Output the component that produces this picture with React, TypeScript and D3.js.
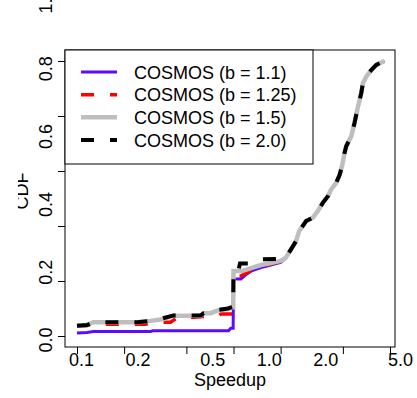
import React, { useRef, useEffect } from "react";
import * as d3 from "d3";

type Pt = [number, number];

// axis values
const xTickValues = [0.1, 0.2, 0.5, 1, 2, 5, 10];
const xLabelValues = [0.1, 0.2, 0.5, 1, 2, 5];
const yTickValues = [0, 0.2, 0.4, 0.6, 0.8, 1];
const yLabelValues = [0, 0.2, 0.4, 0.6, 0.8, 1];

const seriesNames = [
  "COSMOS (b = 1.1)",
  "COSMOS (b = 1.25)",
  "COSMOS (b = 1.5)",
  "COSMOS (b = 2.0)",
];

// [speedup, cdf] points
const b11Head: Pt[] = [
  [0.1, 0.011], [0.116, 0.013], [0.127, 0.016], [0.295, 0.016],
  [0.304, 0.019], [0.93, 0.019], [0.961, 0.028], [0.995, 0.028],
  [1.0, 0.207], [1.114, 0.207], [1.17, 0.218], [1.29, 0.236],
  [1.5, 0.249], [1.73, 0.258], [2.0, 0.268], [2.1, 0.278],
];
const b125Head: Pt[] = [
  [0.1, 0.035], [0.116, 0.038], [0.127, 0.043], [0.274, 0.043],
  [0.304, 0.05], [0.396, 0.05], [0.44, 0.068], [0.557, 0.068],
  [0.645, 0.071], [0.793, 0.071], [0.83, 0.08], [0.995, 0.08],
  [1.0, 0.218], [1.11, 0.218], [1.2, 0.228], [1.29, 0.236],
  [1.5, 0.25], [1.73, 0.262], [2.0, 0.272], [2.1, 0.28],
];
const b15Head: Pt[] = [
  [0.1, 0.037], [0.116, 0.04], [0.127, 0.05], [0.243, 0.05],
  [0.295, 0.055], [0.342, 0.06], [0.414, 0.074], [0.617, 0.074],
  [0.645, 0.083], [0.715, 0.083], [0.793, 0.093], [0.919, 0.098],
  [0.98, 0.105], [0.995, 0.105], [1.0, 0.236], [1.13, 0.236],
  [1.5, 0.258], [1.73, 0.265], [2.0, 0.273], [2.1, 0.28],
];
const b20Head: Pt[] = [
  [0.1, 0.037], [0.116, 0.04], [0.127, 0.05], [0.243, 0.05],
  [0.295, 0.055], [0.342, 0.062], [0.414, 0.075], [0.617, 0.075],
  [0.645, 0.083], [0.715, 0.085], [0.793, 0.095], [0.919, 0.1],
  [0.98, 0.105], [0.995, 0.105], [1.0, 0.243], [1.08, 0.243],
  [1.1, 0.264], [1.3, 0.264], [1.5, 0.279], [2.1, 0.281],
];
// all four runs share the upper part of the curve
const sharedTail: Pt[] = [
  [2.16, 0.285], [2.33, 0.315], [2.51, 0.345], [2.63, 0.382],
  [2.91, 0.418], [3.21, 0.43], [3.45, 0.454], [3.72, 0.484],
  [4.01, 0.508], [4.21, 0.533], [4.53, 0.557], [4.76, 0.585],
  [4.95, 0.62], [5.12, 0.665], [5.25, 0.69], [5.65, 0.726],
  [5.93, 0.774], [6.24, 0.834], [6.55, 0.883], [6.71, 0.919],
  [7.05, 0.943], [7.59, 0.967], [8.17, 0.986], [9.23, 1.0],
];

const seriesData: Pt[][] = [b11Head, b125Head, b15Head, b20Head].map(h => h.concat(sharedTail));

const styles = [
  { color: "#5b0cff", width: 3, dash: null as string | null },
  { color: "#ff0000", width: 3.5, dash: "13,16" },
  { color: "#bebebe", width: 4.5, dash: null },
  { color: "#000000", width: 4, dash: "13,16" },
];

const FONT = "'Liberation Sans', Arial, Helvetica, sans-serif";

export default function App() {
  const svgRef = useRef<SVGSVGElement>(null);

  useEffect(() => {
    if (!svgRef.current) return;
    const svg = d3.select(svgRef.current);
    svg.selectAll("*").remove();

    const box = { left: 65, right: 395, top: 50, bottom: 347 };

    // data scales
    const x = d3.scaleLog().domain([0.1, 10]).range([77, 390]);
    const y = d3.scaleLinear().domain([0, 1]).range([336, 61]);
    // tick labels sit on their own (stretched) positions in the picture
    const xLab = d3.scaleLog().domain([0.1, 5]).range([81, 400]);
    const yLab = d3.scaleLinear().domain([0, 1]).range([340, 1]);

    svg.append("rect")
      .attr("width", 417).attr("height", 398).attr("fill", "#fff");

    // curves
    const line = d3.line<Pt>()
      .x(d => x(d[0]))
      .y(d => y(d[1]));

    seriesData.forEach((data, i) => {
      const s = styles[i];
      svg.append("path")
        .datum(data)
        .attr("fill", "none")
        .attr("stroke", s.color)
        .attr("stroke-width", s.width)
        .attr("stroke-dasharray", s.dash)
        .attr("d", line);
    });

    // plot box
    svg.append("rect")
      .attr("x", box.left).attr("y", box.top)
      .attr("width", box.right - box.left).attr("height", box.bottom - box.top)
      .attr("fill", "none").attr("stroke", "#000").attr("stroke-width", 1);

    // x ticks
    const xAxis = svg.append("g")
      .attr("transform", `translate(0,${box.bottom})`)
      .call(d3.axisBottom(x).tickValues(xTickValues).tickFormat(() => "").tickSize(7));
    xAxis.select(".domain").remove();
    xAxis.selectAll("line").attr("stroke", "#000");

    const xLabels = svg.append("g")
      .attr("transform", `translate(0,${box.bottom})`)
      .call(d3.axisBottom(xLab).tickValues(xLabelValues).tickFormat(d => Number(d).toFixed(1)).tickSize(0).tickPadding(6));
    xLabels.select(".domain").remove();
    xLabels.selectAll("text")
      .attr("font-family", FONT).attr("font-size", 18).attr("fill", "#000");

    // y ticks
    const yAxis = svg.append("g")
      .attr("transform", `translate(${box.left},0)`)
      .call(d3.axisLeft(y).tickValues(yTickValues).tickFormat(() => "").tickSize(7));
    yAxis.select(".domain").remove();
    yAxis.selectAll("line").attr("stroke", "#000");

    svg.append("g")
      .selectAll("text")
      .data(yLabelValues)
      .join("text")
      .attr("transform", d => `translate(52,${yLab(d)}) rotate(-90)`)
      .attr("text-anchor", "middle")
      .attr("font-family", FONT).attr("font-size", 18)
      .text(d => d.toFixed(1));

    // axis titles
    svg.append("text")
      .attr("x", (box.left + box.right) / 2).attr("y", 386)
      .attr("text-anchor", "middle")
      .attr("font-family", FONT).attr("font-size", 18)
      .text("Speedup");

    svg.append("clipPath").attr("id", "ylab-clip")
      .append("rect").attr("x", 18).attr("y", 150).attr("width", 30).attr("height", 90);
    svg.append("g")
      .attr("clip-path", "url(#ylab-clip)")
      .append("text")
      .attr("transform", "translate(28,191) rotate(-90)")
      .attr("text-anchor", "middle")
      .attr("font-family", FONT).attr("font-size", 18)
      .text("CDF");

    // legend
    const legend = svg.append("g");
    legend.append("rect")
      .attr("x", 65).attr("y", 50).attr("width", 248).attr("height", 114)
      .attr("fill", "#fff").attr("stroke", "#000").attr("stroke-width", 1);

    const rowY = d3.scalePoint<string>().domain(seriesNames).range([72, 140]);
    seriesNames.forEach((name, i) => {
      const s = styles[i];
      const yy = rowY(name) as number;
      legend.append("line")
        .attr("x1", 81).attr("x2", 117).attr("y1", yy).attr("y2", yy)
        .attr("stroke", s.color)
        .attr("stroke-width", s.width)
        .attr("stroke-dasharray", s.dash);
      legend.append("text")
        .attr("x", 134).attr("y", yy + 6.5)
        .attr("font-family", FONT).attr("font-size", 18)
        .text(name);
    });
  }, []);

  return (
    <svg
      ref={svgRef}
      width={417}
      height={398}
      style={{ position: "absolute", left: 0, top: 0 }}
    />
  );
}
